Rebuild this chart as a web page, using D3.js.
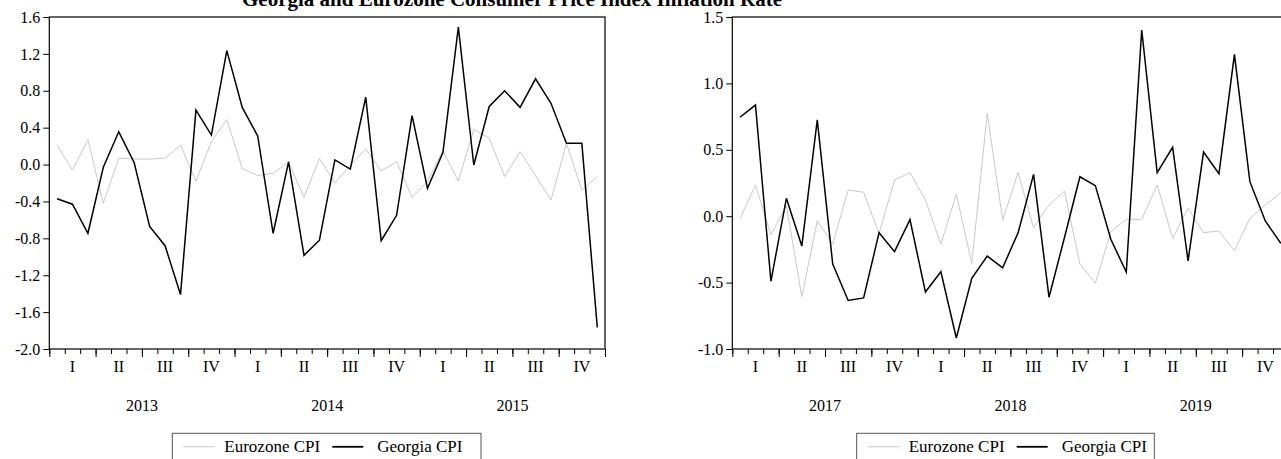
<!DOCTYPE html>
<html><head><meta charset="utf-8">
<script src="https://cdn.jsdelivr.net/npm/d3@7"></script>
<style>
html,body{margin:0;padding:0;background:#fff;overflow:hidden;}
svg{display:block;}
svg text{font-family:"Liberation Serif","Times New Roman",serif !important;fill:#000;}
</style></head>
<body>
<svg id="c" width="1281" height="459"></svg>
<script>
const titleText = "Georgia and Eurozone Consumer Price Index Inflation Rate";
const quarterLabels = ["I","II","III","IV"];
const seriesNames = ["Eurozone CPI","Georgia CPI"];

const yearsLeft = ["2013","2014","2015"];
const georgiaLeft = [-0.37,-0.43,-0.745,-0.03,0.355,0.02,-0.67,-0.88,-1.41,0.59,0.32,1.235,
  0.62,0.31,-0.745,0.03,-0.985,-0.82,0.05,-0.05,0.73,-0.825,-0.55,0.53,
  -0.257,0.13,1.49,-0.005,0.63,0.8,0.62,0.93,0.665,0.23,0.23,-1.765];
const euroLeft = [0.21,-0.06,0.27,-0.42,0.07,0.06,0.06,0.07,0.21,-0.18,0.25,0.49,
  -0.045,-0.12,-0.095,0.025,-0.355,0.065,-0.2,-0.01,0.17,-0.07,0.03,-0.355,
  -0.185,0.15,-0.18,0.38,0.285,-0.13,0.14,-0.12,-0.385,0.23,-0.275,-0.13];
const yTicksLeft = [-2.0,-1.6,-1.2,-0.8,-0.4,0.0,0.4,0.8,1.2,1.6];

const yearsRight = ["2017","2018","2019"];
const georgiaRight = [0.745,0.837,-0.49,0.135,-0.225,0.725,-0.36,-0.635,-0.615,-0.124,-0.267,-0.026,
  -0.57,-0.418,-0.917,-0.468,-0.3,-0.388,-0.124,0.315,-0.61,-0.16,0.297,0.23,
  -0.174,-0.42,1.402,0.328,0.519,-0.337,0.483,0.32,1.219,0.26,-0.036,-0.204];
const euroRight = [-0.02,0.235,-0.14,0.08,-0.606,-0.034,-0.21,0.197,0.18,-0.13,0.272,0.328,
  0.122,-0.21,0.165,-0.355,0.775,-0.029,0.328,-0.087,0.084,0.19,-0.362,-0.505,
  -0.117,-0.024,-0.024,0.235,-0.167,0.06,-0.124,-0.112,-0.26,-0.016,0.085,0.177];
const yTicksRight = [-1.0,-0.5,0.0,0.5,1.0,1.5];

const svg = d3.select("#c");

svg.append("text").attr("x",512).attr("y",6)
  .attr("text-anchor","middle").attr("font-weight","bold").attr("font-size",21)
  .text(titleText);

function panel(cfg){
  const {x0,x1,yTop,yBot,yDomain,yTicks,years,euro,geo,legend} = cfg;
  const g = svg.append("g");
  const nM = euro.length;
  const x = d3.scaleLinear().domain([0,nM]).range([x0,x1]);
  const y = d3.scaleLinear().domain(yDomain).range([yBot,yTop]);

  g.append("rect").attr("x",x0).attr("y",yTop).attr("width",x1-x0).attr("height",yBot-yTop)
    .attr("fill","none").attr("stroke","#000").attr("stroke-width",1.2);

  const ya = g.append("g").attr("transform",`translate(${x0},0)`)
    .call(d3.axisLeft(y).tickValues(yTicks).tickSize(6).tickPadding(3).tickFormat(d=>d.toFixed(1)));
  ya.select(".domain").remove();
  ya.selectAll("text").attr("font-size",16);

  const xa = g.append("g").attr("transform",`translate(0,${yBot})`)
    .call(d3.axisBottom(x).tickValues(d3.range(0,nM+1)).tickSize(5).tickFormat(""));
  xa.select(".domain").remove();
  const xq = g.append("g").attr("transform",`translate(0,${yBot})`)
    .call(d3.axisBottom(x).tickValues(d3.range(0,nM+1,3)).tickSize(8).tickFormat(""));
  xq.select(".domain").remove();

  const nQ = nM/3;
  for(let q=0;q<nQ;q++){
    g.append("text").attr("x",x(q*3+1.5)).attr("y",yBot+23)
      .attr("text-anchor","middle").attr("font-size",16).text(quarterLabels[q%4]);
  }
  years.forEach((yr,i)=>{
    g.append("text").attr("x",x(i*12+6)).attr("y",yBot+62)
      .attr("text-anchor","middle").attr("font-size",16).text(yr);
  });

  const line = d3.line().x((d,i)=>x(i+0.5)).y(d=>y(d));
  g.append("path").datum(euro).attr("d",line).attr("fill","none")
    .attr("stroke","#c8c8c8").attr("stroke-width",1);
  g.append("path").datum(geo).attr("d",line).attr("fill","none")
    .attr("stroke","#000").attr("stroke-width",1.5);

  const L = g.append("g").attr("transform",`translate(${legend.x},${legend.y})`);
  L.append("rect").attr("x",0).attr("y",0).attr("width",legend.w).attr("height",32)
    .attr("fill","#fff").attr("stroke","#555").attr("stroke-width",1);
  L.append("line").attr("x1",11).attr("x2",43).attr("y1",13.5).attr("y2",13.5)
    .attr("stroke","#c8c8c8").attr("stroke-width",1);
  L.append("text").attr("x",52).attr("y",19).attr("font-size",17).text(seriesNames[0]);
  L.append("line").attr("x1",160).attr("x2",191).attr("y1",13.5).attr("y2",13.5)
    .attr("stroke","#000").attr("stroke-width",1.8);
  L.append("text").attr("x",205).attr("y",19).attr("font-size",17).text(seriesNames[1]);
}

panel({x0:49.3,x1:605,yTop:17,yBot:349,yDomain:[-2.0,1.6],yTicks:yTicksLeft,
  years:yearsLeft,euro:euroLeft,geo:georgiaLeft,legend:{x:172.3,y:433.3,w:308.7}});
panel({x0:732.3,x1:1288.5,yTop:17,yBot:349,yDomain:[-1.0,1.5],yTicks:yTicksRight,
  years:yearsRight,euro:euroRight,geo:georgiaRight,legend:{x:856.7,y:433.3,w:297.6}});
</script>
</body></html>
